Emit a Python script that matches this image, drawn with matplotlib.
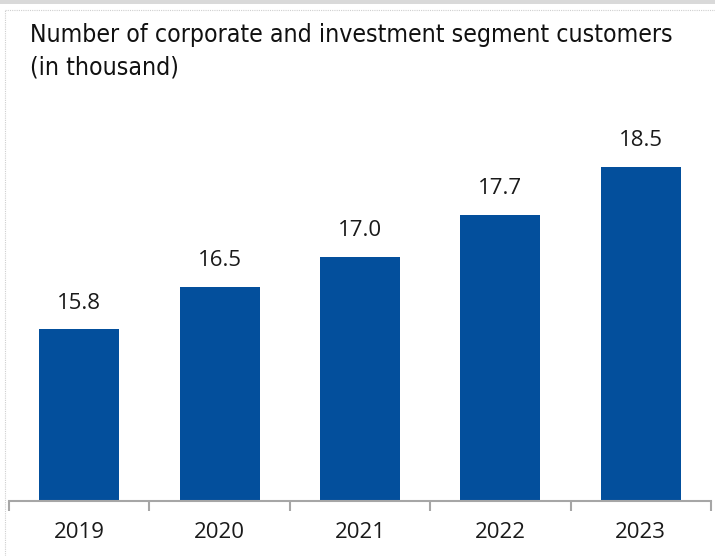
import matplotlib
matplotlib.use("Agg")
import matplotlib.pyplot as plt
from matplotlib.lines import Line2D
from matplotlib.patches import Rectangle

years = ["2019", "2020", "2021", "2022", "2023"]
customers = [15.8, 16.5, 17.0, 17.7, 18.5]
value_labels = ["15.8", "16.5", "17.0", "17.7", "18.5"]

title_line1 = "Number of corporate and investment segment customers"
title_line2 = "(in thousand)"

BAR_COLOR = "#034f9c"
AXIS_COLOR = "#a6a6a6"

W, H = 715, 556
fig = plt.figure(figsize=(W / 100, H / 100), dpi=100)

# frame decorations
fig.add_artist(Rectangle((0, 1 - 4 / H), 1, 4 / H, transform=fig.transFigure,
                         facecolor="#d9d9d9", edgecolor="none"))
fig.add_artist(Line2D([5 / W, 5 / W], [0, 1 - 10 / H], transform=fig.transFigure,
                      color="#cfcfcf", lw=0.8, ls=(0, (1, 1))))
fig.add_artist(Line2D([5 / W, 1], [1 - 10 / H, 1 - 10 / H], transform=fig.transFigure,
                      color="#cfcfcf", lw=0.8, ls=(0, (1, 1))))

left, right = 9 / W, 711 / W
bottom, top = 1 - 501 / H, 1 - 100 / H
ax = fig.add_axes([left, bottom, right - left, top - bottom])

x = list(range(len(years)))
ax.bar(x, customers, width=0.57, color=BAR_COLOR, bottom=0)
ax.set_xlim(-0.5, len(years) - 0.5)
ax.set_ylim(12.95, 19.61)

for xi, v, lab in zip(x, customers, value_labels):
    ax.annotate(lab, (xi, v), xytext=(0, 15), textcoords="offset points",
                ha="center", va="baseline", fontsize=16,
                family="Open Sans", color="#1a1a1a")

for s in ("top", "right", "left"):
    ax.spines[s].set_visible(False)
ax.spines["bottom"].set_color(AXIS_COLOR)
ax.spines["bottom"].set_linewidth(1.5)

ax.set_yticks([])
ax.set_xticks(x)
ax.set_xticklabels(years, fontsize=16, family="Open Sans", color="#1a1a1a")
ax.tick_params(axis="x", which="major", length=0, pad=15)
ax.set_xticks([i - 0.5 for i in range(len(years) + 1)], minor=True)
ax.tick_params(axis="x", which="minor", length=7, width=1.5, color=AXIS_COLOR)

title_kw = dict(fontsize=17.8, family="DejaVu Sans", fontstretch="condensed",
                ha="left", va="baseline", color="#111111")
fig.text(30 / W, 1 - 42 / H, title_line1, **title_kw)
fig.text(30 / W, 1 - 75 / H, title_line2, **title_kw)

fig.savefig("out.png", dpi=100)
